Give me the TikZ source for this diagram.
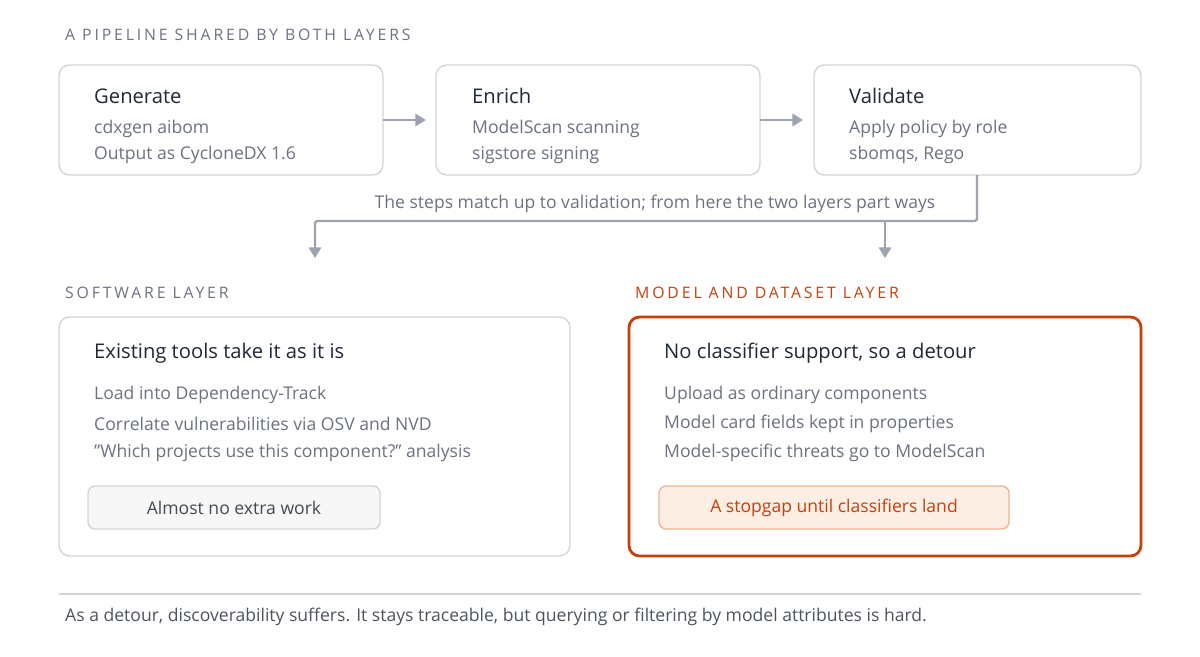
\documentclass[tikz,border=0pt]{standalone}
\usepackage{fontspec}
\setmainfont{Open Sans}
\usetikzlibrary{arrows.meta,positioning}
\definecolor{ink}{HTML}{1F2937}
\definecolor{muted}{HTML}{6B7280}
\definecolor{edge}{HTML}{D1D5DB}
\definecolor{wire}{HTML}{9CA3AF}
\definecolor{rust}{HTML}{C2410C}
\definecolor{peach}{HTML}{FDEEE4}
\definecolor{peachline}{HTML}{F0B48F}
\tikzset{
  card/.style={draw=edge,line width=0.8pt,rounded corners=6pt,fill=white},
  head/.style={anchor=west,text=ink,font=\fontsize{11.5}{13}\selectfont},
  body/.style={anchor=west,text=muted,font=\fontsize{10}{12}\selectfont},
  caps/.style={anchor=west,text=muted,font=\fontsize{9}{11}\selectfont},
  flow/.style={draw=wire,line width=1.3pt,-{Triangle[length=6pt,width=7pt]}},
}
\begin{document}
\begin{tikzpicture}[x=0.02cm,y=-0.02cm]
    \useasboundingbox (0,0) rectangle (1200,656);
    \node[caps] at (59,35) {\addfontfeature{LetterSpace=18}A PIPELINE SHARED BY BOTH LAYERS};
    % pipeline steps
    \draw[card] (59,65) rectangle (383,175);
    \draw[card] (436,65) rectangle (760,175);
    \draw[card] (814,65) rectangle (1141,175);
    \node[head] (gen) at (88,96) {Generate};
    \node[body] at (88,129) {cdxgen aibom};
    \node[body] at (88,155) {Output as CycloneDX 1.6};
    \node[head] (enr) at (466,96) {Enrich};
    \node[body] at (466,129) {ModelScan scanning};
    \node[body] at (466,155) {sigstore signing};
    \node[head] (val) at (843,96) {Validate};
    \node[body] at (843,129) {Apply policy by role};
    \node[body] at (843,155) {sbomqs, Rego};
    \coordinate (g1) at (383,120); \coordinate (e0) at (426,120);
    \coordinate (e1) at (760,120); \coordinate (v0) at (803,120);
    \draw[flow] (g1) -- (e0);
    \draw[flow] (e1) -- (v0);
    % split
    \coordinate (vb) at (977,175);
    \coordinate (sw) at (315,258);
    \coordinate (md) at (885,258);
    \draw[flow,rounded corners=1pt] (vb) |- (315,221) -- (sw);
    \draw[flow] (885,221) -- (md);
    \node[body,anchor=center] (note) at (655,204) {The steps match up to validation; from here the two layers part ways};
    % layers
    \node[caps] at (59,293) {\addfontfeature{LetterSpace=18}SOFTWARE LAYER};
    \node[caps,text=rust] at (629,293) {\addfontfeature{LetterSpace=18}MODEL AND DATASET LAYER};
    \draw[card] (59,317) rectangle (570,556);
    \draw[card,draw=rust,line width=1.6pt] (629,317) rectangle (1141,556);
    \node[head] at (88,353) {Existing tools take it as it is};
    \node[body] at (88,395) {Load into Dependency-Track};
    \node[body] at (88,424) {Correlate vulnerabilities via OSV and NVD};
    \node[body] at (88,453) {"Which projects use this component?" analysis};
    \draw[draw=edge,fill=gray!6,rounded corners=4pt,line width=0.8pt] (88,486) rectangle (380,529);
    \node[body,anchor=center,text=ink!85] at (234,508) {Almost no extra work};
    \node[head] at (658,353) {No classifier support, so a detour};
    \node[body] at (658,395) {Upload as ordinary components};
    \node[body] at (658,424) {Model card fields kept in properties};
    \node[body] at (658,453) {Model-specific threats go to ModelScan};
    \draw[draw=peachline,fill=peach,rounded corners=4pt,line width=0.8pt] (659,486) rectangle (1009,529);
    \node[body,anchor=center,text=rust] at (834,508) {A stopgap until classifiers land};
    % footer
    \draw[edge,line width=0.8pt] (59,594) -- (1141,594);
    \node[body,text=ink!80] at (59,617) {As a detour, discoverability suffers. It stays traceable, but querying or filtering by model attributes is hard.};
\end{tikzpicture}
\end{document}
